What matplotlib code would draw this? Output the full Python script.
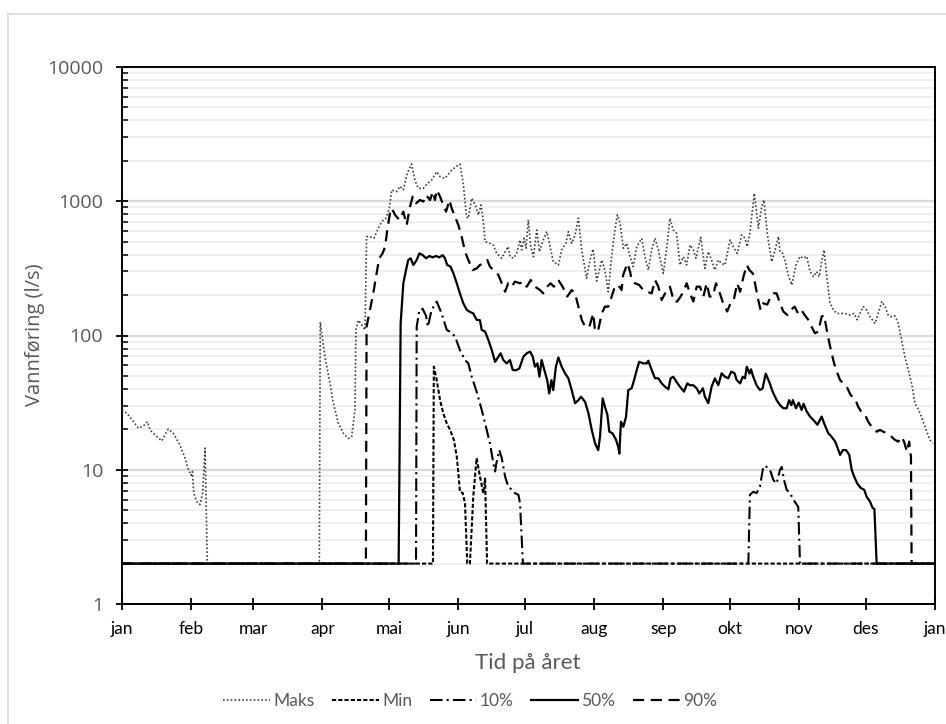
import matplotlib
matplotlib.use("Agg")
import matplotlib.pyplot as plt
from matplotlib.ticker import FixedLocator, LogLocator, NullFormatter, FixedFormatter
from matplotlib.lines import Line2D

# ---------------- data ----------------
month_days = [0, 31, 59, 90, 120, 151, 181, 212, 243, 273, 304, 334, 365]
month_labels = ["jan", "feb", "mar", "apr", "mai", "jun", "jul", "aug", "sep", "okt", "nov", "des", "jan"]
y_ticks = [1, 10, 100, 1000, 10000]
y_tick_labels = ["1", "10", "100", "1000", "10000"]
series_names = ["Maks", "Min", "10%", "50%", "90%"]

maks_day = [0, 2.5, 5, 7.3, 9.6, 11.4, 12.6, 14.8, 17.8, 20.8, 23, 26, 28.3, 29.8, 31, 31.6, 32.2, 33.5, 35, 36.2,
            36.8, 37.3, 38.3, 88.6, 89, 91.1, 93.4, 94.9, 97.1, 99.4, 101.6, 103.1, 104.6, 105, 106.1, 107.6, 109.1,
            109.8, 111.3, 113.1, 115.1, 116.6, 118.5, 120, 121.1, 123.3, 124.8, 126.3, 128.1, 130, 131.5, 133, 135.3,
            137.2, 139, 141.3, 142.8, 145, 148, 151, 151.7, 153.2, 154.7, 155.5, 157, 158.9, 160, 161.2, 162.2, 163,
            165.2, 166.7, 168.2, 170.5, 172, 173.4, 174.2, 175.7, 177.2, 178.7, 179.4, 180.5, 181.4, 182.4, 183.5,
            184.7, 186.2, 187.4, 189.1, 190.7, 192.2, 193.6, 195.9, 197.4, 199.3, 200.4, 201.9, 203.4, 204.9, 206.4,
            208.6, 210.1, 211.5, 213.1, 215.4, 216.8, 218.3, 219.8, 221.3, 222.4, 223.6, 225.1, 226.6, 228.1, 229.5,
            231.1, 233.3, 234.8, 236.3, 237.8, 239.3, 240.8, 243, 244.8, 246, 247.5, 249, 250.5, 252, 253.5, 255,
            256.5, 257.7, 259.8, 261.7, 263.2, 264.7, 266.2, 267.7, 269.2, 270.7, 273, 274.4, 276.2, 278.2, 279.7,
            280.7, 281.9, 282.7, 283.9, 285.7, 287.2, 288.2, 289.7, 291.7, 293.2, 294.7, 295.4, 296.6, 297.6, 299.1,
            300.7, 302.6, 304.4, 305.9, 307.4, 308.9, 310.4, 311.9, 313, 314.1, 315.2, 316.4, 317.9, 319.4, 320.9,
            323.1, 324.6, 326.8, 328.6, 330.1, 331.3, 332.8, 334.3, 335.8, 338.1, 339.5, 341.1, 342.6, 344, 345.5,
            347, 348.5, 350, 351.5, 353, 354.5, 356, 358.3, 360.5, 362.7, 364]
maks_val = [28, 26, 23, 20.4, 21.2, 22.8, 19.8, 18.2, 16.4, 20.1, 18.7, 15.3, 12.2, 10, 9.1, 9.7, 6.7, 5.8, 5.5, 6.7,
            10, 14.5, 2, 2, 126, 69.5, 44, 31.3, 22.2, 18.7, 17.1, 17.6, 28, 110, 130, 120, 110,
            545, 545, 530, 630, 705, 747, 887, 1215, 1180, 1290, 1215, 1616, 1893, 1438, 1248, 1248,
            1360, 1438, 1660, 1524, 1480, 1710, 1862, 1893, 1360, 767, 747, 1052, 911, 791, 938, 705, 500,
            486, 472, 409, 376, 421, 459, 386, 376, 409, 514, 434, 530, 446, 726, 459,
            386, 610, 421, 514, 594, 459, 355, 335, 434, 486, 594, 486, 561, 747, 434,
            267, 365, 440, 255, 365, 307, 212, 386, 610, 791, 686, 446, 486, 386, 326,
            459, 530, 386, 307, 434, 530, 434, 290, 486, 747, 610, 577, 335, 386, 335, 472,
            434, 376, 539, 316, 421, 365, 307, 365, 345, 335, 514, 459, 409, 561, 530,
            459, 577, 767, 1146, 629, 911, 1022, 577, 355, 434, 545, 421, 409, 365, 282,
            238, 335, 389, 376, 389, 299, 274, 299, 274, 355, 434, 274, 174, 155, 146,
            146, 146, 142, 146, 131, 146, 164, 155, 138, 123, 146, 179, 164, 142, 138,
            140, 123, 92.5, 69.5, 55.4, 44, 31.3, 26.4, 20.9, 16.7, 15.7]

min_day = [0, 139.6, 140, 141.3, 142.8, 144.2, 145.8, 147.3, 149, 150.3, 151.4, 151.7, 153, 154, 155, 156.2, 157.7,
           159.2, 160.7, 162.2, 163, 163.9, 365]
min_val = [2, 2, 58.6, 46.5, 33, 26.4, 22.2, 19.8, 16.7, 12.5, 8, 6.85, 6.7, 5.6, 2, 2, 6.3,
           12.2, 8.9, 6.7, 8.6, 2, 2]

p10_day = [0, 132, 132.3, 133.5, 135, 136.5, 137.3, 139, 141.3, 143.5, 145.8, 147.3, 149.5, 151.7, 154, 155.5, 157,
           159.2, 161.5, 163.4, 165.2, 166.7, 167.5, 168, 169.4, 170.5, 172, 173.4, 175, 176.4, 178, 178.7, 180,
           281.2, 281.9, 283.4, 284.9, 286.4, 287.9, 288.7, 290.1, 291.2, 292.4, 293.9, 295.4, 296.2, 297.2, 298.4,
           299.9, 301.4, 302.9, 303.6, 304.4, 365]
p10_val = [2, 2, 116, 155, 158, 140, 116, 155, 179, 146, 110, 107, 98.5, 78, 65.6, 62, 49.3,
           38.2, 27.9, 20.9, 15.7, 11.2, 9.7, 11, 14, 12.2, 8.9, 7.5, 7.1, 6.7, 6.5, 5.6, 2,
           2, 6.5, 6.85, 6.7, 7.5, 10.5, 10.7, 10.3, 9.7, 8.4, 7.9, 10, 10.5, 8.4, 7.1,
           6.7, 6, 5.5, 5.3, 2, 2]

p50_day = [0, 124.2, 125.1, 126.3, 127.5, 128.5, 129.6, 130.8, 132.3, 133.5, 135, 136.5, 138, 139.5, 141, 142.5,
           144, 145, 146, 147.5, 148.8, 150.3, 151.7, 153.2, 154.8, 156.2, 157.7, 159.2, 160.7, 161.5, 163, 164.5,
           166, 167.5, 169, 170, 171.2, 172.7, 174.2, 175.4, 176.9, 178.4, 180.2, 181.7, 183.2, 184.4, 185.4, 186.5,
           187.4, 188.4, 189.6, 190.9, 191.8, 192.8, 193.6, 194.8, 195.9, 197.4, 198.9, 200.4, 201.9, 203.4, 204.9,
           206.1, 207.9, 209.4, 210.9, 212.4, 213.8, 214.6, 215.8, 216.8, 217.9, 218.8, 220.2, 221.8, 222.8, 223.3,
           224, 225.1, 226.3, 227.3, 228.8, 229.9, 231.1, 232.2, 234, 235.6, 236.3, 237.8, 239.3, 240.8, 242.3,
           243.8, 245.3, 246.3, 247.5, 249, 250.5, 252.3, 253.8, 254.9, 256.5, 258, 259.2, 260.8, 261.7, 263.2,
           264.7, 266.2, 267.7, 269.2, 270.7, 272.2, 273.5, 275, 276, 277.5, 278.7, 279.7, 280.5, 281.7, 282.4,
           283.4, 284.9, 286.4, 287.6, 289, 290.6, 292.1, 293.9, 295.4, 296.9, 298.4, 299.5, 300.5, 301.2, 302.6,
           303.8, 305.1, 306, 307.4, 308.9, 310.4, 312.2, 314.1, 315.5, 317.1, 318.6, 320.2, 321.3, 322.4, 323.6,
           325.1, 326.5, 327.6, 328.7, 330.1, 331.7, 333.2, 334.3, 335.8, 337, 337.8, 338.8, 365]
p50_val = [2, 2, 123, 245, 307, 365, 376, 335, 365, 409, 397, 376, 391, 382, 391, 382,
           397, 376, 335, 326, 290, 245, 206, 174, 155, 150, 146, 131, 130, 110, 107, 92.5,
           78, 63.7, 69.5, 73.7, 65.6, 62, 65.6, 55.4, 55, 56.9, 69.5, 73.7, 75.9, 69.5, 58.6, 62,
           49.3, 65.6, 55.4, 46.5, 37, 46.5, 39.2, 58.6, 68.6, 58.6, 52.3, 48, 39.2, 31.3, 33,
           35, 32, 26.4, 19.8, 15.7, 14, 17.6, 34, 29.5, 25.7, 19.2, 18.7, 16.7, 14.8, 13.2,
           22.8, 20.9, 24.9, 39.2, 40.4, 46.5, 55.4, 63.7, 62, 62, 64.9, 55.4, 48, 48, 44,
           41.5, 39.8, 48, 49.3, 45, 41.5, 38.2, 44, 42.6, 42.6, 40.4, 37, 40.4, 35, 31.3,
           41.5, 48, 42.6, 52.3, 49.3, 48, 53.8, 52.3, 46.5, 44, 49.3, 48, 58.6, 52, 56,
           49.3, 42.6, 39.2, 40.4, 52, 45, 38.2, 33, 30.3, 28.7, 28.7, 33, 30.3, 33, 28.7,
           31.6, 27.9, 31, 27.2, 24.9, 23.5, 21.6, 24.9, 21.6, 18.7, 17.6, 16.2, 14.5, 12.9, 14,
           14, 12.9, 10, 8.9, 7.9, 7.3, 7.1, 6.3, 5.8, 5.2, 5.1, 2, 2]

p90_day = [0, 109.5, 109.8, 111.3, 112.8, 114.3, 115.5, 117, 118.1, 119.1, 120.3, 121.1, 122.6, 124.5, 126.3, 127.8,
           129.3, 130.5, 132, 133.8, 135.3, 136.5, 138.3, 139.5, 140.5, 141.3, 142.8, 144.2, 145.5, 147, 148, 149.5,
           151, 152.5, 154, 155.5, 157.4, 159.2, 160.7, 162.2, 164, 165.2, 167.5, 169, 170.5, 172, 173.4, 175,
           176.4, 178.7, 180.2, 181.7, 183.5, 185.4, 187.7, 189.1, 190.9, 192.4, 193.9, 195.9, 197.8, 199.9, 201.9,
           203.4, 204.9, 206.4, 207.9, 209.8, 211.6, 212.4, 213.8, 215.4, 216.8, 218.3, 219.8, 221.3, 222.8, 224.3,
           225, 226.9, 228.1, 228.8, 230.3, 232.2, 234, 235.6, 237.8, 239.3, 240.8, 242.3, 244.2, 246, 247.8, 249.2,
           250.8, 252, 253.5, 255, 256.5, 258, 259.5, 261, 262.5, 263.8, 265.2, 266.7, 268.4, 269.9, 271.7, 273.2,
           274.6, 276.2, 277.5, 279, 280.5, 281.7, 283.2, 284.2, 285.3, 286.7, 287.9, 289.7, 291.2, 292.4, 293.9,
           295.4, 296.9, 298.7, 300.2, 302, 303.5, 305, 306.5, 308.1, 309.6, 311.1, 312.6, 314.1, 315.2, 316.4,
           317.6, 318.6, 319.7, 320.9, 322.4, 323.8, 325.4, 327.1, 329.1, 330.5, 331.8, 333.6, 335, 336.6, 338.8,
           340.3, 341.8, 343.3, 345.5, 347, 348.5, 350, 351.1, 352.4, 353.4, 354.2, 354.5, 365]
p90_val = [2, 2, 116, 155, 206, 290, 376, 409, 459, 610, 813, 887, 791, 726, 837, 665,
           911, 1082, 966, 1022, 995, 1112, 1022, 1180, 1022, 1215, 1082, 938, 837, 1022, 887, 767,
           665, 545, 421, 365, 307, 316, 335, 345, 365, 326, 299, 282, 245, 212, 245, 231,
           252, 245, 252, 231, 259, 231, 218, 206, 231, 245, 231, 259, 231, 195, 218,
           206, 164, 131, 116, 116, 146, 107, 110, 146, 164, 164, 195, 231, 238, 218,
           282, 345, 299, 259, 245, 238, 218, 212, 206, 259, 231, 184, 212, 231, 179, 179,
           195, 212, 245, 206, 179, 231, 231, 195, 245, 195, 195, 245, 206, 174, 151, 174,
           182, 245, 212, 274, 335, 307, 290, 245, 195, 155, 174, 170, 195, 206, 206,
           174, 151, 142, 155, 164, 146, 155, 142, 131, 116, 104, 107, 138, 142, 110,
           87.5, 73.7, 62, 53.8, 46.5, 44, 41.5, 36, 34, 29.5, 27.2, 25.7, 22.8, 20.9, 19.2,
           19.8, 19.2, 18.7, 17.6, 16.7, 16.2, 17.6, 16.2, 13.6, 16.2, 12.5, 2, 2]

# ---------------- figure ----------------
W, H = 946, 724
fig = plt.figure(figsize=(W / 100, H / 100), dpi=100)
fig.patch.set_facecolor("white")

# light chart-area border (extends past the image on right/bottom)
fig.add_artist(Line2D([7.5 / W, 7.5 / W], [0, 1 - 14 / H], transform=fig.transFigure, color="#d9d9d9", lw=1.2))
fig.add_artist(Line2D([7.5 / W, 1], [1 - 14 / H, 1 - 14 / H], transform=fig.transFigure, color="#d9d9d9", lw=1.2))

ax = fig.add_axes([122 / W, 1 - 604 / H, (935 - 122) / W, (604 - 67) / H])
ax.set_yscale("log")
ax.set_xlim(0, 365)
ax.set_ylim(1, 10000)

gray = "#595959"
styles = {
    "Maks": dict(color="#3f3f3f", lw=1.2, linestyle=(0, (1, 1.3))),
    "Min": dict(color="black", lw=1.5, linestyle=(0, (2, 1))),
    "10%": dict(color="black", lw=1.5, linestyle=(0, (6, 2, 1, 2))),
    "50%": dict(color="black", lw=1.6, linestyle="-"),
    "90%": dict(color="black", lw=1.6, linestyle=(0, (5, 3))),
}
data = {
    "Maks": (maks_day, maks_val),
    "Min": (min_day, min_val),
    "10%": (p10_day, p10_val),
    "50%": (p50_day, p50_val),
    "90%": (p90_day, p90_val),
}
handles = []
for name in series_names:
    d, v = data[name]
    (ln,) = ax.plot(d, v, label=name, zorder=3, **styles[name])
    handles.append(ln)

# grid
ax.yaxis.set_major_locator(FixedLocator(y_ticks))
ax.yaxis.set_major_formatter(FixedFormatter(y_tick_labels))
ax.yaxis.set_minor_locator(LogLocator(base=10, subs=range(2, 10)))
ax.yaxis.set_minor_formatter(NullFormatter())
ax.grid(True, which="major", axis="y", color="#d9d9d9", lw=1.6, zorder=0)
ax.grid(True, which="minor", axis="y", color="#eeeeee", lw=1.3, zorder=0)
ax.set_axisbelow(True)

ax.set_xticks(month_days)
ax.set_xticklabels(month_labels)

for s in ax.spines.values():
    s.set_color("black")
    s.set_linewidth(1.4)

ax.tick_params(axis="y", which="major", direction="inout", length=9, width=1.3, color="black",
               labelsize=14, labelcolor=gray, pad=9)
ax.tick_params(axis="y", which="minor", direction="in", length=4, width=1.1, color="black")
ax.tick_params(axis="x", which="major", direction="inout", length=8, width=1.3, color="black",
               labelsize=12.5, labelcolor="black", pad=8)
for lab in ax.get_yticklabels():
    lab.set_fontfamily("Open Sans")
for lab in ax.get_xticklabels():
    lab.set_fontfamily("Lato")

fig.text(35 / W, 1 - 335 / H, "Vannføring (l/s)", rotation=90, ha="center", va="center",
         fontsize=14.5, color=gray, family="Open Sans")
fig.text(528 / W, 1 - 663 / H, "Tid på året", ha="center", va="center", fontsize=16, color=gray, family="Lato")

leg = fig.legend(handles=handles, labels=series_names, loc="center", bbox_to_anchor=(470 / W, 1 - 701 / H),
                 ncol=5, frameon=False, handlelength=2.7, handletextpad=0.2, columnspacing=1.0,
                 prop={"family": "Lato", "size": 12.5})
for t in leg.get_texts():
    t.set_color(gray)

fig.savefig("out.png", dpi=100, facecolor="white")
